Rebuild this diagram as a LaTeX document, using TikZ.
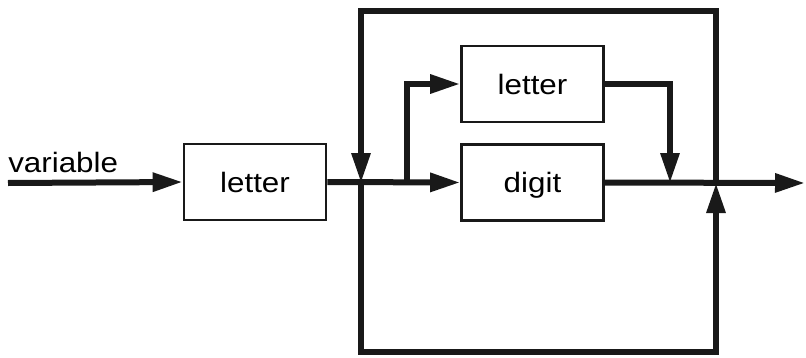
\documentclass[tikz,border=0pt]{standalone}
\usepackage{fontspec}
\setmainfont{Liberation Sans}
\usetikzlibrary{arrows.meta}
\tikzset{
  flow/.style={line width=4.5pt, color=black!90, line join=miter, -{Triangle[length=22.5pt,width=13.5pt]}},
  plain/.style={line width=4.5pt, color=black!90, line join=miter},
  blockbox/.style={draw=black!90, line width=2pt, minimum width=106.5pt, minimum height=57pt, inner sep=0pt, text height=15pt, text depth=0pt, font=\fontsize{21pt}{24pt}\selectfont},
  lbl/.style={inner sep=0pt, font=\fontsize{21pt}{24pt}\selectfont}
}
\newcommand{\widetxt}[1]{\scalebox{1.12}[1]{#1}}
\begin{document}
\begin{tikzpicture}[x=0.75pt,y=-0.75pt]
\useasboundingbox (0,0) rectangle (806,357);
% nodes
\node[lbl, anchor=base west] (var) at (8,172) {\widetxt{variable}};
\node[blockbox] (b1) at (255,182) {\widetxt{letter}};
\node[blockbox] (bl) at (532.5,84) {\widetxt{letter}};
\node[blockbox] (bd) at (532.5,182.5) {\widetxt{digit}};
% coordinates
\coordinate (in) at (8,183);
\coordinate (jL) at (361,183);
\coordinate (jB) at (407,183);
\coordinate (jM) at (670,183);
\coordinate (jR) at (716,183);
\coordinate (out) at (805,183);
\coordinate (tl) at (361,11);
\coordinate (tr) at (716,11);
\coordinate (bl0) at (361,352);
\coordinate (br) at (716,352);
% connectors
\draw[flow] (in) -- (b1.west);
\draw[flow] (b1.east) -- (bd.west);
\draw[flow] (jB) |- (bl.west);
\draw[flow] (bl.east) -| (jM);
\draw[flow] (bd.east) -- (out);
\draw[flow] (jR) -- (tr) -- (tl) -- (jL);
\draw[flow] (jL) -- (bl0) -- (br) -- (jR);
\end{tikzpicture}
\end{document}
